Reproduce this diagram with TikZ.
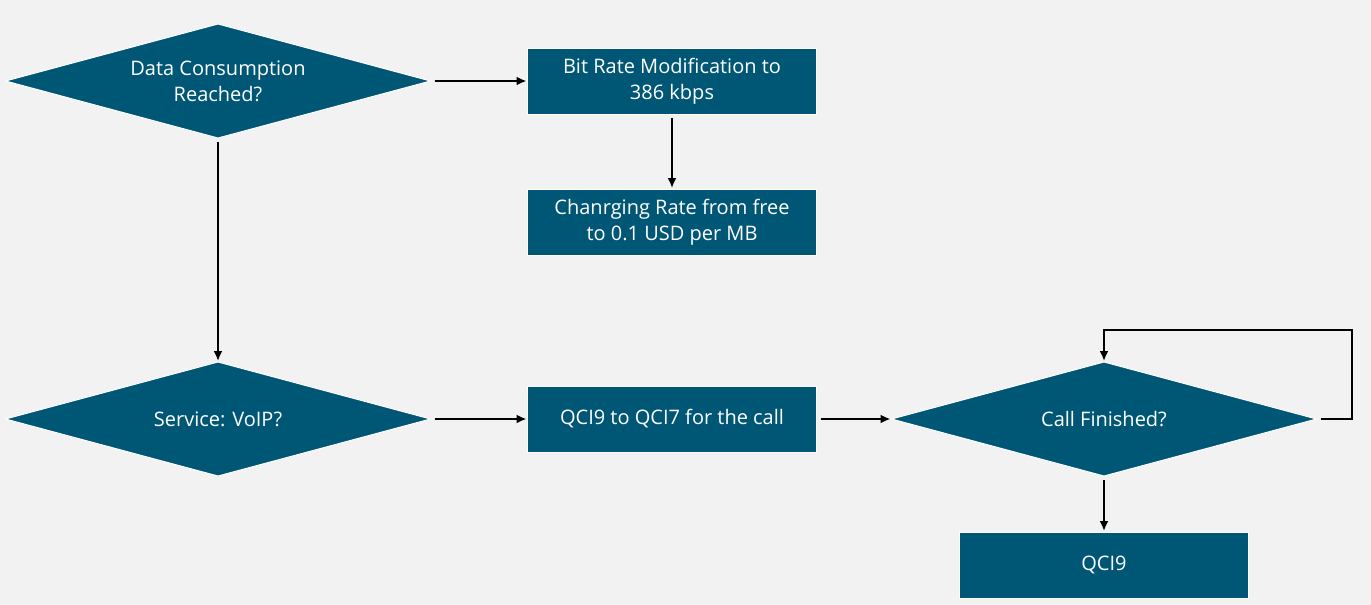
\documentclass[tikz,border=0pt]{standalone}
\usepackage{fontspec}
\setmainfont{Open Sans}
\usetikzlibrary{shapes.geometric, positioning, arrows.meta}

\definecolor{flowblue}{RGB}{0,87,117}
\definecolor{flowbg}{RGB}{242,242,242}

\begin{document}
\begin{tikzpicture}[x=1pt, y=1pt,
    flowtext/.style={text=white, align=center, font=\fontsize{20}{26}\selectfont},
    decision/.style={diamond, draw=white, line width=1pt, fill=flowblue,
        minimum width=425pt, minimum height=114pt, inner sep=0pt, outer sep=0pt,
        label={[flowtext]center:#1}},
    process/.style={rectangle, draw=white, line width=1pt, fill=flowblue, flowtext,
        minimum width=289pt, minimum height=66pt, inner sep=0pt, outer sep=0pt},
    flow/.style={-{Latex[length=10pt, width=9pt]}, line width=2pt, shorten <=4pt, shorten >=1pt}]
    \fill[flowbg] (0,0) rectangle (1371,-605);
    \useasboundingbox (0,0) rectangle (1371,-605);

    \node[decision={Data Consumption\\Reached?}] (consumption) at (218,-81) {};
    \node[process, right=97pt of consumption] (bitrate) {Bit Rate Modification to\\386 kbps};
    \node[process, below=75pt of bitrate] (charging) {Chanrging Rate from free\\to 0.1 USD per MB};
    \node[decision={Service: VoIP?}, below=224pt of consumption] (voip) {};
    \node[process, right=97pt of voip] (qcichange) {QCI9 to QCI7 for the call};
    \node[decision={Call Finished?}, right=75pt of qcichange] (finished) {};
    \node[process, below=56pt of finished] (qci) {QCI9};
    \coordinate (loopcorner) at (1352,-330);

    \draw[flow] (consumption) -- (bitrate);
    \draw[flow] (bitrate) -- (charging);
    \draw[flow] (consumption) -- (voip);
    \draw[flow] (voip) -- (qcichange);
    \draw[flow] (qcichange) -- (finished);
    \draw[flow] (finished) -- (qci);
    \draw[flow] (finished.east) -| (loopcorner) -| (finished.north);
\end{tikzpicture}
\end{document}
